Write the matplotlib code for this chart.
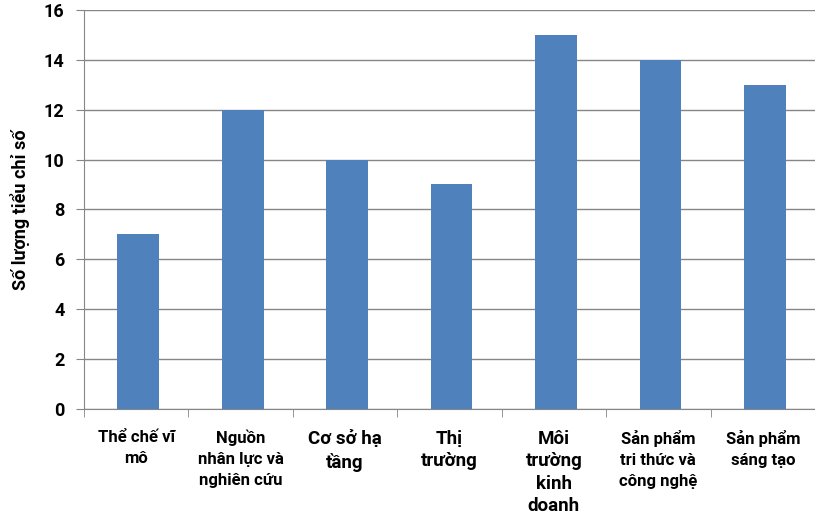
import numpy as np
import matplotlib
matplotlib.use("Agg")
import matplotlib.pyplot as plt

plt.rcParams["font.family"] = ["Roboto", "DejaVu Sans"]
plt.rcParams["font.weight"] = "bold"

categories = [
    "Thể chế vĩ\nmô",
    "Nguồn\nnhân lực và\nnghiên cứu",
    "Cơ sở hạ\ntầng",
    "Thị\ntrường",
    "Môi\ntrường\nkinh\ndoanh",
    "Sản phẩm\ntri thức và\ncông nghệ",
    "Sản phẩm\nsáng tạo",
]
values = [7, 12, 10, 9, 15, 14, 13]
label_sizes = [12, 12, 13.5, 13.5, 13.5, 12, 12]
y_ticks = [0, 2, 4, 6, 8, 10, 12, 14, 16]
y_label = "Số lượng tiểu chỉ số"

BAR_COLOR = "#4f81bd"
GRID_COLOR = "#868686"

fig = plt.figure(figsize=(8.15, 5.19), dpi=100)
ax = fig.add_axes([0.103, 0.212, 0.897, 0.769])

x = np.arange(len(categories))
ax.bar(x + 0.02, values, width=0.4, color=BAR_COLOR, zorder=3)

ax.set_xlim(-0.5, len(categories) - 0.5)
ax.set_ylim(0, 16)
ax.set_yticks(y_ticks)
ax.set_yticklabels([str(t) for t in y_ticks], fontsize=13, fontweight="bold")
ax.yaxis.grid(True, color=GRID_COLOR, linewidth=1, zorder=0)

ax.set_xticks(x)
ax.set_xticklabels(categories, fontweight="bold")
for lbl, fs in zip(ax.get_xticklabels(), label_sizes):
    lbl.set_fontsize(fs)
    lbl.set_linespacing(1.5 if fs < 13 else 1.32)
ax.tick_params(axis="x", which="major", length=0, pad=15)
ax.set_xticks(np.arange(-0.5, len(categories) + 0.5, 1), minor=True)
ax.tick_params(axis="x", which="minor", length=6, color=GRID_COLOR)
ax.tick_params(axis="y", length=6, color=GRID_COLOR, pad=8)

for side in ["top", "right"]:
    ax.spines[side].set_visible(False)
for side in ["left", "bottom"]:
    ax.spines[side].set_color(GRID_COLOR)

ax.set_ylabel(y_label, fontsize=13, fontweight="bold", labelpad=10)

fig.savefig("out.png", dpi=100)
